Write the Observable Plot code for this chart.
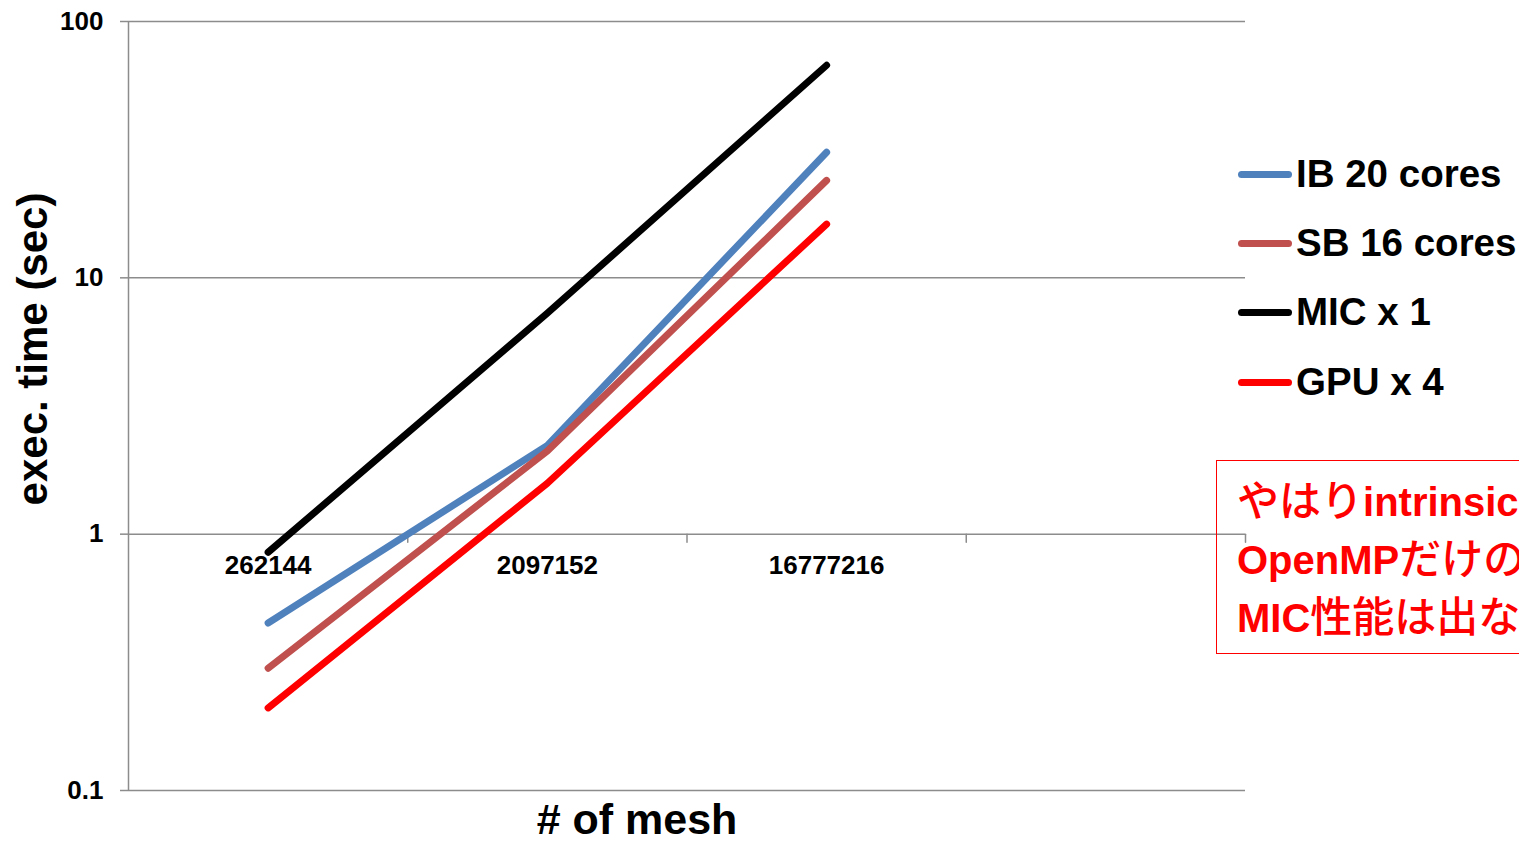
<!DOCTYPE html>
<html>
<head>
<meta charset="utf-8">
<script src="https://cdn.jsdelivr.net/npm/d3@7"></script>
<script src="https://cdn.jsdelivr.net/npm/@observablehq/plot@0.6"></script>
<style>
  html, body { margin: 0; padding: 0; background: #fff; overflow: hidden; }
  #wrap { position: relative; width: 1519px; height: 841px; overflow: hidden; font-family: "Liberation Sans", Arial, sans-serif; }
  #chart svg { display: block; }
  .legend { position: absolute; left: 1238px; top: 0; }
  .legend .item { position: absolute; left: 0; height: 50px; display: flex; align-items: center; white-space: nowrap; }
  .legend .swatch { width: 54px; height: 7px; border-radius: 4px; margin-right: 4px; }
  .legend .label { font-size: 38.5px; font-weight: bold; color: #000; }
  .note { position: absolute; left: 1216px; top: 460px; width: 420px; height: 194px; border: 1.5px solid #ff0000;
          box-sizing: border-box; padding: 8px 0 0 20px; color: #ff0000; font-weight: bold; font-size: 40px;
          font-family: "Liberation Sans", "Noto Sans CJK JP", sans-serif; white-space: nowrap; }
  .note .row { height: 58px; line-height: 58px; overflow: visible; }
  .note .cjk { font-family: "Noto Sans CJK JP", sans-serif; font-weight: 500; font-size: 42px; line-height: 58px; }
</style>
</head>
<body>
<div id="wrap">
  <div id="chart"></div>
  <div class="legend" id="legend"></div>
  <div class="note" id="note"></div>
</div>
<script>
// Mesh sizes along the category axis (a fourth, empty slot follows them)
const meshSizes = ["262144", "2097152", "16777216"];
const slotCount = 4;

// Execution time in seconds for each configuration
const ibTimes  = [0.45, 2.22, 30.9];
const sbTimes  = [0.30, 2.11, 24.0];
const micTimes = [0.85, 7.28, 67.5];
const gpuTimes = [0.21, 1.58, 16.2];

const seriesNames  = ["IB 20 cores", "SB 16 cores", "MIC x 1", "GPU x 4"];
const seriesColors = ["#4f81bd", "#c0504d", "#000000", "#ff0000"];
const seriesValues = [ibTimes, sbTimes, micTimes, gpuTimes];

const yTicks = [0.1, 1, 10, 100];
const yTickLabels = ["0.1", "1", "10", "100"];
const slotBoundaries = [1, 2, 3, 4];

const yTitle = "exec. time (sec)";
const xTitle = "# of mesh";
const noteLines = ["やはりintrinsicsを使わないと", "OpenMPだけの最適化では", "MIC性能は出ない"];

// Long-format rows: one per series per mesh size, x at the slot centre
const rows = seriesNames.flatMap((name, s) =>
  seriesValues[s].map((v, i) => ({series: name, slot: i + 0.5, time: v}))
);

const gridColor = "#8c8c8c";
const font = "Liberation Sans, Arial, sans-serif";

// Short downward tick drawn by Plot.vector
const downTick = {draw(context, l) { context.moveTo(0, 0); context.lineTo(0, -l); }};

const chart = Plot.plot({
  width: 1519,
  height: 841,
  marginTop: 21,
  marginBottom: 51,
  marginLeft: 128,
  marginRight: 274,
  style: {fontFamily: font, color: "#000", background: "#fff"},
  x: {type: "linear", domain: [0, slotCount], axis: null},
  y: {type: "log", domain: [0.1, 100], axis: null},
  color: {domain: seriesNames, range: seriesColors},
  marks: [
    Plot.gridY(yTicks, {stroke: gridColor, strokeOpacity: 1, strokeWidth: 1.5}),
    Plot.ruleX([0], {stroke: gridColor, strokeWidth: 1.5}),
    Plot.axisY(yTicks, {
      anchor: "left", tickSize: 8, tickPadding: 17, stroke: gridColor, strokeWidth: 1.5,
      tickFormat: d => yTickLabels[yTicks.indexOf(d)], fontSize: 26, fontWeight: "bold", fill: "#000", label: null
    }),
    Plot.vector(slotBoundaries, {
      x: d => d, y: () => 1, length: 8, rotate: 180, anchor: "start",
      shape: downTick, stroke: gridColor, strokeWidth: 1.5
    }),
    Plot.text(meshSizes, {
      x: (d, i) => i + 0.5, y: () => 1, text: d => d, dy: 32,
      fontSize: 26, fontWeight: "bold", fill: "#000"
    }),
    Plot.line(rows, {
      x: "slot", y: "time", z: "series", stroke: "series",
      strokeWidth: 7, strokeLinecap: "round", strokeLinejoin: "round"
    }),
    Plot.text([yTitle], {
      frameAnchor: "left", text: d => d, rotate: -90, textAnchor: "middle", dx: -95, dy: -57,
      fontSize: 42, fontWeight: "bold", fill: "#000"
    }),
    Plot.text([xTitle], {
      frameAnchor: "bottom", text: d => d, dx: -50, dy: 43,
      fontSize: 43, fontWeight: "bold", fill: "#000"
    })
  ]
});
document.getElementById("chart").appendChild(chart);

// Legend to the right of the plot
const legend = document.getElementById("legend");
const legendCenters = [174, 243, 312, 382];
seriesNames.forEach((name, i) => {
  const item = document.createElement("div");
  item.className = "item";
  item.style.top = (legendCenters[i] - 25) + "px";
  const sw = document.createElement("div");
  sw.className = "swatch";
  sw.style.background = seriesColors[i];
  const lb = document.createElement("span");
  lb.className = "label";
  lb.textContent = name;
  item.appendChild(sw);
  item.appendChild(lb);
  legend.appendChild(item);
});

// Boxed note: Japanese runs and Latin runs styled separately
const note = document.getElementById("note");
noteLines.forEach(t => {
  const d = document.createElement("div");
  d.className = "row";
  t.match(/[\u3000-\u9fff]+|[^\u3000-\u9fff]+/g).forEach(run => {
    const s = document.createElement("span");
    if (/[\u3000-\u9fff]/.test(run)) s.className = "cjk";
    s.textContent = run;
    d.appendChild(s);
  });
  note.appendChild(d);
});
</script>
</body>
</html>
